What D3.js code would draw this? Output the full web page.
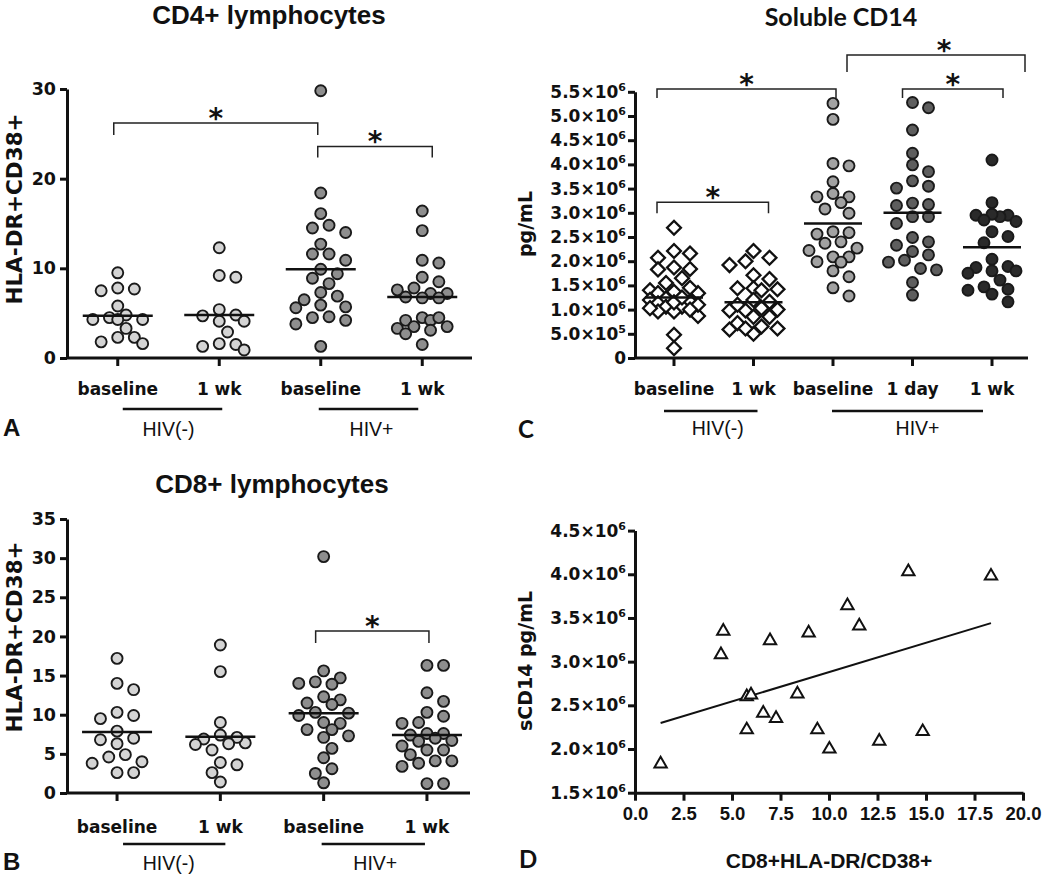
<!DOCTYPE html>
<html><head><meta charset="utf-8">
<script src="https://cdn.jsdelivr.net/npm/d3@7"></script>
<style>body{margin:0;background:#fff}svg{display:block}</style>
</head><body>
<svg id="chart" width="1050" height="874"></svg>
<script>
// ---------------- DATA ----------------
// Panel A: CD4+ lymphocytes, % HLA-DR+CD38+
const cd4Labels = ["baseline", "1 wk", "baseline", "1 wk"];
const cd4NegBase = [9.5, 7.8, 7.5, 7.7, 5.8, 4.5, 4.3, 4.3, 4.8, 4.3, 3.3, 2.3, 2.3, 1.6, 1.8];
const cd4Neg1wk = [12.3, 9.2, 9.0, 5.4, 4.8, 4.7, 4.1, 4.1, 2.9, 1.6, 1.5, 1.3, 0.9];
const cd4PosBase = [29.8, 18.4, 16.1, 14.5, 14.8, 14.0, 12.7, 11.6, 11.6, 10.9, 9.9, 9.4, 8.9, 8.3, 7.3, 6.9, 6.5, 5.9, 5.6, 5.7, 4.6, 4.2, 4.5, 3.8, 1.3];
const cd4Pos1wk = [16.4, 14.2, 10.6, 10.9, 9.0, 8.5, 7.8, 7.2, 7.2, 7.6, 6.7, 6.8, 6.7, 4.5, 4.2, 4.2, 4.5, 3.3, 3.1, 3.5, 3.5, 2.7, 1.5];
const cd4Means = [4.7, 4.8, 9.9, 6.8];
const cd4YTicks = [0, 10, 20, 30];

// Panel B: CD8+ lymphocytes, % HLA-DR+CD38+
const cd8Labels = ["baseline", "1 wk", "baseline", "1 wk"];
const cd8NegBase = [17.2, 13.2, 14.0, 9.9, 10.3, 9.5, 7.9, 7.0, 6.8, 6.3, 4.6, 4.9, 3.8, 4.0, 2.6, 2.6];
const cd8Neg1wk = [18.9, 15.5, 9.0, 6.4, 7.1, 6.9, 7.4, 6.2, 6.3, 5.5, 3.6, 3.9, 2.6, 1.4];
const cd8PosBase = [30.2, 15.6, 14.7, 14.2, 13.9, 14.0, 11.9, 12.3, 11.5, 11.3, 10.3, 10.2, 9.9, 8.9, 9.0, 8.1, 8.1, 7.1, 7.3, 5.7, 4.5, 3.1, 2.5, 1.3];
const cd8Pos1wk = [16.3, 16.3, 12.8, 11.7, 10.3, 9.8, 9.0, 8.9, 7.6, 7.6, 7.4, 7.0, 6.7, 6.0, 6.6, 5.5, 5.5, 4.9, 4.1, 4.1, 3.8, 3.4, 1.2, 1.2];
const cd8Means = [7.8, 7.2, 10.2, 7.4];
const cd8YTicks = [0, 5, 10, 15, 20, 25, 30, 35];

// Panel C: soluble CD14 (values in 10^6 pg/mL)
const sc14Labels = ["baseline", "1 wk", "baseline", "1 day", "1 wk"];
const sc14NegBase = [2.69, 2.16, 2.21, 2.07, 1.87, 1.84, 1.83, 1.65, 1.37, 1.34, 1.40, 1.34, 1.23, 1.20, 1.16, 1.13, 1.06, 1.06, 0.96, 0.96, 0.87, 1.03, 0.48, 0.20, 1.10, 1.15, 1.25, 1.45, 1.55, 1.00];
const sc14Neg1wk = [2.21, 2.00, 2.07, 1.92, 1.71, 1.63, 1.44, 1.40, 1.44, 1.42, 0.98, 1.16, 0.98, 0.85, 0.85, 0.72, 0.61, 0.65, 0.50, 0.61, 0.59, 1.03, 1.00, 1.10, 1.20];
const sc14PosBase = [5.26, 4.93, 3.97, 4.02, 3.64, 3.33, 3.33, 3.40, 3.21, 2.99, 3.08, 2.59, 2.56, 2.61, 2.37, 2.40, 2.27, 2.22, 2.09, 2.09, 1.99, 1.98, 1.80, 1.68, 1.45, 1.28];
const sc14Pos1day = [5.17, 5.28, 4.71, 4.23, 3.85, 3.99, 3.55, 3.51, 3.66, 3.20, 3.15, 3.17, 2.92, 2.78, 2.92, 2.40, 2.49, 2.33, 2.20, 2.13, 2.02, 1.98, 1.85, 1.82, 1.56, 1.30];
const sc14Pos1wk = [4.09, 3.21, 2.95, 2.92, 2.95, 2.97, 2.85, 2.82, 2.61, 2.51, 2.38, 2.04, 1.89, 1.87, 1.80, 1.80, 1.61, 1.47, 1.42, 1.40, 1.32, 1.16, 1.75];
const sc14Means = [1.25, 1.15, 2.78, 3.00, 2.29];
const sc14YTicks = [0, 0.5, 1.0, 1.5, 2.0, 2.5, 3.0, 3.5, 4.0, 4.5, 5.0, 5.5];

// Panel D: correlation CD8+HLA-DR/CD38+ vs sCD14 (10^6 pg/mL)
const corrX = [1.32, 4.43, 4.55, 5.76, 5.98, 5.76, 6.61, 6.96, 7.27, 8.37, 8.95, 9.40, 10.02, 10.95, 11.56, 12.59, 14.09, 14.83, 18.35];
const corrY = [1.83, 3.08, 3.35, 2.60, 2.62, 2.22, 2.41, 3.24, 2.35, 2.63, 3.33, 2.22, 2.00, 3.64, 3.41, 2.09, 4.03, 2.20, 3.98];
const corrXTicks = [0, 2.5, 5, 7.5, 10, 12.5, 15, 17.5, 20];
const corrYTicks = [1.5, 2.0, 2.5, 3.0, 3.5, 4.0, 4.5];

const groupNames = ["HIV(-)", "HIV+"];

// ---------------- HELPERS ----------------
const svg = d3.select("#chart");
const DV = "'DejaVu Sans', Verdana, sans-serif";
const AR = "'Liberation Sans', Arial, Helvetica, sans-serif";
const CAL = "Lato, 'Open Sans', sans-serif";
const INK = "#111";

function styleAxis(g, size, family) {
  g.select(".domain").attr("stroke", INK).attr("stroke-width", 3);
  g.selectAll(".tick line").attr("stroke", INK).attr("stroke-width", 3);
  g.selectAll(".tick text").attr("font-family", family).attr("font-weight", "bold")
    .attr("font-size", size).attr("fill", INK);
}

function sciText(sel, vM) {
  const v = Math.round(vM * 1e6);
  sel.text(null);
  if (v === 0) { sel.text("0"); return; }
  const e = Math.floor(Math.log10(v) + 1e-9);
  const m = v / Math.pow(10, e);
  sel.append("tspan").text(m.toFixed(1) + "×10");
  sel.append("tspan").attr("dy", -7).attr("font-size", "11px").text(e);
}

// simple deterministic beeswarm
function swarm(vals, y, cx, step, minD, maxK) {
  const placed = [];
  const out = new Array(vals.length);
  const order = vals.map((v, i) => i).sort((a, b) => vals[b] - vals[a] || a - b);
  for (const i of order) {
    const py = y(vals[i]);
    let best = null, alt = null, altScore = -1;
    for (let k = 0; k <= maxK && !best; k++) {
      const cands = k === 0 ? [0] : [k, -k];
      for (const c of cands) {
        const px = cx + c * step;
        let md = Infinity;
        for (const p of placed) md = Math.min(md, Math.hypot(p.x - px, p.y - py));
        if (md >= minD) { best = { x: px, y: py }; break; }
        if (md > altScore) { altScore = md; alt = { x: px, y: py }; }
      }
    }
    if (!best) best = alt;
    placed.push(best);
    out[i] = best;
  }
  return out;
}

function drawStar(g, x, y) {
  g.append("text").attr("x", x).attr("y", y + 16).attr("text-anchor", "middle")
    .attr("font-family", DV).attr("font-weight", "bold").attr("font-size", 28)
    .attr("fill", INK).text("*");
}

function dotPanel(cfg) {
  const g = svg.append("g");
  const x = d3.scaleBand().domain(d3.range(cfg.labels.length)).range(cfg.xRange);
  const y = d3.scaleLinear().domain(cfg.yDomain).range(cfg.yRange);
  const cx = i => x(i) + x.bandwidth() / 2;

  // title
  g.append("text").attr("x", cfg.title.x).attr("y", cfg.title.y).attr("text-anchor", "middle")
    .attr("font-family", cfg.title.font).attr("font-weight", "bold").attr("font-size", cfg.title.size)
    .attr("fill", INK).text(cfg.title.text);

  // y axis
  const yAx = g.append("g").attr("transform", `translate(${cfg.axisX},0)`)
    .call(d3.axisLeft(y).tickValues(cfg.yTicks).tickSize(7).tickPadding(cfg.yPad).tickSizeOuter(0));
  styleAxis(yAx, cfg.yTickSize, DV);
  if (cfg.sci) yAx.selectAll(".tick text").each(function (d) { sciText(d3.select(this), d); });

  // y label
  g.append("text").attr("transform", `translate(${cfg.ylab.x},${cfg.ylab.y}) rotate(-90)`)
    .attr("text-anchor", "middle").attr("font-family", DV).attr("font-weight", "bold")
    .attr("font-size", cfg.ylab.size).attr("fill", INK).text(cfg.ylab.text);

  // x axis
  const xAx = g.append("g").attr("transform", `translate(0,${y(cfg.yDomain[0])})`)
    .call(d3.axisBottom(x).tickSize(8).tickSizeOuter(0).tickFormat(i => cfg.labels[i]));
  styleAxis(xAx, 17, DV);
  xAx.select(".domain").attr("d", `M${cfg.xLine[0]},0H${cfg.xLine[1]}`);
  xAx.selectAll(".tick text").attr("y", cfg.labelDy).attr("dy", 0);

  // group lines and labels
  cfg.groups.forEach((gr, k) => {
    g.append("line").attr("x1", cx(gr.from) + gr.dx1).attr("x2", cx(gr.to) + gr.dx2)
      .attr("y1", cfg.groupLineY).attr("y2", cfg.groupLineY).attr("stroke", INK).attr("stroke-width", 2.5);
    g.append("text").attr("x", (cx(gr.from) + cx(gr.to)) / 2 + gr.tdx).attr("y", cfg.groupTextY)
      .attr("text-anchor", "middle").attr("font-family", AR).attr("font-size", 19.5)
      .attr("fill", INK).text(groupNames[k]);
  });

  // points
  cfg.series.forEach((vals, gi) => {
    const pos = swarm(vals, y, cx(gi), cfg.step, cfg.minD, cfg.maxK);
    const sg = g.append("g");
    if (cfg.symbols[gi] === "diamond") {
      sg.selectAll("path").data(pos).join("path")
        .attr("d", d3.symbol(d3.symbolSquare, 96))
        .attr("transform", d => `translate(${d.x},${d.y}) rotate(45)`)
        .attr("fill", "#fff").attr("stroke", INK).attr("stroke-width", 2.3);
    } else {
      sg.selectAll("circle").data(pos).join("circle")
        .attr("cx", d => d.x).attr("cy", d => d.y).attr("r", 5.5)
        .attr("fill", cfg.fills[gi]).attr("stroke", "#1a1a1a").attr("stroke-width", 1.9);
    }
  });

  // mean lines
  g.selectAll(".mean").data(cfg.means).join("line").attr("class", "mean")
    .attr("x1", (d, i) => cx(i) - cfg.meanHalf).attr("x2", (d, i) => cx(i) + cfg.meanHalf)
    .attr("y1", d => y(d)).attr("y2", d => y(d)).attr("stroke", INK).attr("stroke-width", 2.5);

  // significance brackets
  cfg.brackets.forEach(b => {
    const x1 = cx(b.from) + b.dx1, x2 = cx(b.to) + b.dx2, yy = y(b.level);
    g.append("path").attr("d", `M${x1},${yy + b.drop}V${yy}H${x2}V${yy + b.drop}`)
      .attr("fill", "none").attr("stroke", "#222").attr("stroke-width", 1.5);
    drawStar(g, (x1 + x2) / 2 + (b.sdx || 0), yy - 11);
  });

  // panel letter
  g.append("text").attr("x", cfg.letter.x).attr("y", cfg.letter.y)
    .attr("font-family", cfg.letter.font).attr("font-weight", "bold").attr("font-size", cfg.letter.size)
    .attr("fill", INK).text(cfg.letter.text);
}

// ---------------- PANEL A ----------------
dotPanel({
  labels: cd4Labels, xRange: [67, 473], xLine: [67, 472], axisX: 67,
  yDomain: [0, 30], yRange: [358, 89], yTicks: cd4YTicks, yPad: 4, yTickSize: 17.5,
  title: { text: "CD4+ lymphocytes", x: 269, y: 24, size: 26, font: AR },
  ylab: { text: "HLA-DR+CD38+", x: 22, y: 209, size: 21.5 },
  labelDy: 37, groupLineY: 409, groupTextY: 436,
  groups: [{ from: 0, to: 1, dx1: 5, dx2: 3, tdx: 0 }, { from: 2, to: 3, dx1: -2, dx2: -4, tdx: 0 }],
  series: [cd4NegBase, cd4Neg1wk, cd4PosBase, cd4Pos1wk],
  symbols: ["circle", "circle", "circle", "circle"],
  fills: ["#d4d4d4", "#d4d4d4", "#8e8e8e", "#8e8e8e"],
  step: 8.3, minD: 12, maxK: 3,
  means: cd4Means, meanHalf: 35,
  brackets: [
    { from: 0, to: 2, dx1: -4, dx2: -3, level: 26.2, drop: 12 },
    { from: 2, to: 3, dx1: -3, dx2: 10, level: 23.6, drop: 11 }
  ],
  letter: { text: "A", x: 3, y: 436, size: 24, font: AR }
});

// ---------------- PANEL B ----------------
dotPanel({
  labels: cd8Labels, xRange: [65.4, 478.6], xLine: [67, 470], axisX: 67,
  yDomain: [0, 35], yRange: [793, 519], yTicks: cd8YTicks, yPad: 4, yTickSize: 17.5,
  title: { text: "CD8+ lymphocytes", x: 272, y: 493, size: 26, font: AR },
  ylab: { text: "HLA-DR+CD38+", x: 22, y: 637, size: 21.5 },
  labelDy: 40, groupLineY: 844, groupTextY: 870,
  groups: [{ from: 0, to: 1, dx1: 6, dx2: 5, tdx: 0 }, { from: 2, to: 3, dx1: -2, dx2: -2, tdx: 0 }],
  series: [cd8NegBase, cd8Neg1wk, cd8PosBase, cd8Pos1wk],
  symbols: ["circle", "circle", "circle", "circle"],
  fills: ["#d4d4d4", "#d4d4d4", "#8e8e8e", "#8e8e8e"],
  step: 8.3, minD: 12, maxK: 3,
  means: cd8Means, meanHalf: 35,
  brackets: [{ from: 2, to: 3, dx1: -8, dx2: 2, level: 20.7, drop: 12 }],
  letter: { text: "B", x: 3, y: 870, size: 24, font: AR }
});

// ---------------- PANEL C ----------------
dotPanel({
  labels: sc14Labels, xRange: [634.25, 1031.75], xLine: [635, 1028], axisX: 635,
  yDomain: [0, 5.5], yRange: [358, 91.8], yTicks: sc14YTicks, yPad: 2, yTickSize: 17, sci: true,
  title: { text: "Soluble CD14", x: 841, y: 26, size: 25, font: CAL },
  ylab: { text: "pg/mL", x: 532, y: 224, size: 19 },
  labelDy: 37, groupLineY: 411, groupTextY: 435,
  groups: [{ from: 0, to: 1, dx1: -10, dx2: 4, tdx: 4 }, { from: 2, to: 4, dx1: -1, dx2: -9, tdx: 5 }],
  series: [sc14NegBase, sc14Neg1wk, sc14PosBase, sc14Pos1day, sc14Pos1wk],
  symbols: ["diamond", "diamond", "circle", "circle", "circle"],
  fills: ["#fff", "#fff", "#a2a2a2", "#5e5e5e", "#2a2a2a"],
  step: 8.0, minD: 11.5, maxK: 3,
  means: sc14Means, meanHalf: 29,
  brackets: [
    { from: 0, to: 1, dx1: -17, dx2: 15, level: 3.22, drop: 11 },
    { from: 0, to: 2, dx1: -17, dx2: 3, level: 5.56, drop: 9 },
    { from: 3, to: 4, dx1: -10, dx2: 11, level: 5.56, drop: 9 },
    { from: 2, to: 4, dx1: 14, dx2: 33, level: 6.26, drop: 17, sdx: 8 }
  ],
  letter: { text: "C", x: 518, y: 438, size: 24, font: CAL }
});

// ---------------- PANEL D ----------------
(function () {
  const g = svg.append("g");
  const x = d3.scaleLinear().domain([0, 20]).range([635, 1023]);
  const y = d3.scaleLinear().domain([1.5, 4.5]).range([792.7, 530.6]);

  const xAx = g.append("g").attr("transform", `translate(0,${y(1.5)})`)
    .call(d3.axisBottom(x).tickValues(corrXTicks).tickSize(8).tickSizeOuter(0).tickFormat(d3.format(".1f")));
  styleAxis(xAx, 18.5, AR);
  xAx.selectAll(".tick text").attr("y", 27).attr("dy", 0);

  const yAx = g.append("g").attr("transform", `translate(${x(0)},0)`)
    .call(d3.axisLeft(y).tickValues(corrYTicks).tickSize(7).tickPadding(2).tickSizeOuter(0));
  styleAxis(yAx, 17, DV);
  yAx.selectAll(".tick text").each(function (d) { sciText(d3.select(this), d); });

  g.append("text").attr("transform", "translate(532,661) rotate(-90)").attr("text-anchor", "middle")
    .attr("font-family", DV).attr("font-weight", "bold").attr("font-size", 19).attr("fill", INK)
    .text("sCD14 pg/mL");
  g.append("text").attr("x", 829).attr("y", 868).attr("text-anchor", "middle")
    .attr("font-family", AR).attr("font-weight", "bold").attr("font-size", 21).attr("fill", INK)
    .text("CD8+HLA-DR/CD38+");

  // least-squares line from data
  const mx = d3.mean(corrX), my = d3.mean(corrY);
  const sxy = d3.sum(corrX, (v, i) => (v - mx) * (corrY[i] - my));
  const sxx = d3.sum(corrX, v => (v - mx) * (v - mx));
  const slope = sxy / sxx, icpt = my - slope * mx;
  const [x0, x1] = d3.extent(corrX);
  g.append("line").attr("x1", x(x0)).attr("y1", y(icpt + slope * x0))
    .attr("x2", x(x1)).attr("y2", y(icpt + slope * x1)).attr("stroke", INK).attr("stroke-width", 2);

  g.selectAll(".tri").data(corrX).join("path").attr("class", "tri")
    .attr("d", d3.symbol(d3.symbolTriangle, 66))
    .attr("transform", (d, i) => `translate(${x(d)},${y(corrY[i])})`)
    .attr("fill", "#fff").attr("stroke", INK).attr("stroke-width", 2);

  g.append("text").attr("x", 519).attr("y", 868).attr("font-family", CAL).attr("font-weight", "bold")
    .attr("font-size", 24).attr("fill", INK).text("D");
})();
</script>
</body></html>
